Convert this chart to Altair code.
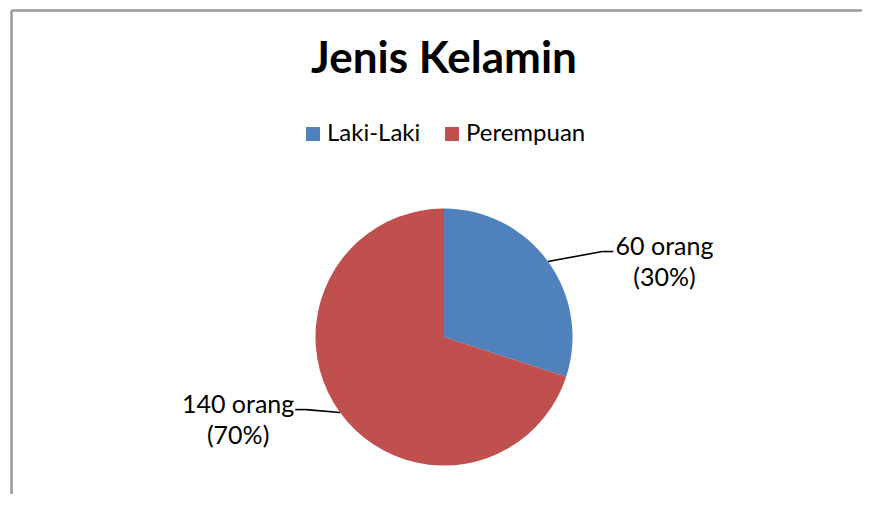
import altair as alt
import pandas as pd

# ---- data ----
title_text = "Jenis Kelamin"
categories = ["Laki-Laki", "Perempuan"]
counts = [60, 140]
percents = ["30%", "70%"]
colors = ["#4F81BD", "#C0504D"]

first_lines = [f"{c} orang" for c in counts]
labels = [f"{c} orang\n({p})" for c, p in zip(counts, percents)]

df = pd.DataFrame({
    "kategori": categories,
    "jumlah": counts,
    "urut": list(range(len(categories))),
    "baris1": first_lines,
    "label": labels,
})

# ---- layout ----
L, T = 18, 172           # view offset inside the svg
W, H = 836, 314          # plot area (view)
R = 128.5                # pie radius in px (1 data unit = R px)
FONT = "Lato"

xs = alt.Scale(domain=[-(W / 2) / R, (W / 2) / R])
ys = alt.Scale(domain=[-(H / 2) / R, (H / 2) / R])

base = alt.Chart(df).transform_joinaggregate(
    total="sum(jumlah)"
).transform_window(
    cum="sum(jumlah)", sort=[alt.SortField("urut")]
).transform_calculate(
    mid="2*PI*(datum.cum - datum.jumlah/2)/datum.total",
    ex="sin(datum.mid)",
    ey="cos(datum.mid)",
    ang="datum.mid + 0.138",
    bx="0.08 + 1.306*sin(datum.ang)",
    by="0.05 + 1.306*cos(datum.ang)",
    side="datum.bx > 0 ? 1 : -1",
    cx=f"datum.bx + datum.side*11/{R}",
    tx=f"datum.cx + datum.side*(4 + length(datum.baris1)*5.9)/{R}",
)

pie = alt.Chart(df).mark_arc(radius=R).encode(
    theta=alt.Theta("jumlah:Q", stack=True),
    order=alt.Order("urut:Q"),
    color=alt.Color(
        "kategori:N",
        scale=alt.Scale(domain=categories, range=colors),
        legend=alt.Legend(
            title=None,
            orient="none",
            direction="horizontal",
            legendX=306 - 13 - L,
            legendY=-58,
            symbolType="square",
            symbolSize=196,
            symbolStrokeWidth=0,
            labelFont=FONT,
            labelFontSize=24,
            labelColor="#000000",
            labelOffset=2,
            columnPadding=19,
            padding=0,
        ),
    ),
)

leader1 = base.mark_rule(color="#000000", strokeWidth=1.6).encode(
    x=alt.X("ex:Q", scale=xs, axis=None),
    y=alt.Y("ey:Q", scale=ys, axis=None),
    x2="bx:Q",
    y2="by:Q",
)
leader2 = base.mark_rule(color="#000000", strokeWidth=1.6).encode(
    x=alt.X("bx:Q", scale=xs, axis=None),
    y=alt.Y("by:Q", scale=ys, axis=None),
    x2="cx:Q",
    y2="by:Q",
)
texts = base.mark_text(
    font=FONT, fontSize=25, color="#000000", align="center",
    baseline="alphabetic", dy=3, lineBreak="\n", lineHeight=31,
).encode(
    x=alt.X("tx:Q", scale=xs, axis=None),
    y=alt.Y("by:Q", scale=ys, axis=None),
    text="label:N",
)

frame_data = alt.Data(values=[{"k": 0}])
left_line = alt.Chart(frame_data).mark_rule(color="#999999", strokeWidth=2.5).encode(
    x=alt.value(3.5 - L), y=alt.value(2.5 - T), y2=alt.value(H)
)
top_line = alt.Chart(frame_data).mark_rule(color="#999999", strokeWidth=2.5).encode(
    x=alt.value(3.5 - L), x2=alt.value(W), y=alt.value(2.5 - T)
)
title = alt.Chart(alt.Data(values=[{"t": title_text}])).mark_text(
    font=FONT, fontSize=44, fontWeight="bold", color="#000000",
    align="center", baseline="alphabetic",
).encode(
    text="t:N", x=alt.value(W / 2), y=alt.value(65 - T)
)

chart = alt.layer(left_line, top_line, title, pie, leader1, leader2, texts).properties(
    width=W,
    height=H,
    autosize="none",
    padding={"left": L, "top": T, "right": 0, "bottom": 0},
    background="#FFFFFF",
).configure_view(stroke=None)

chart.save("out.html", embed_options={"renderer": "svg", "actions": False})
